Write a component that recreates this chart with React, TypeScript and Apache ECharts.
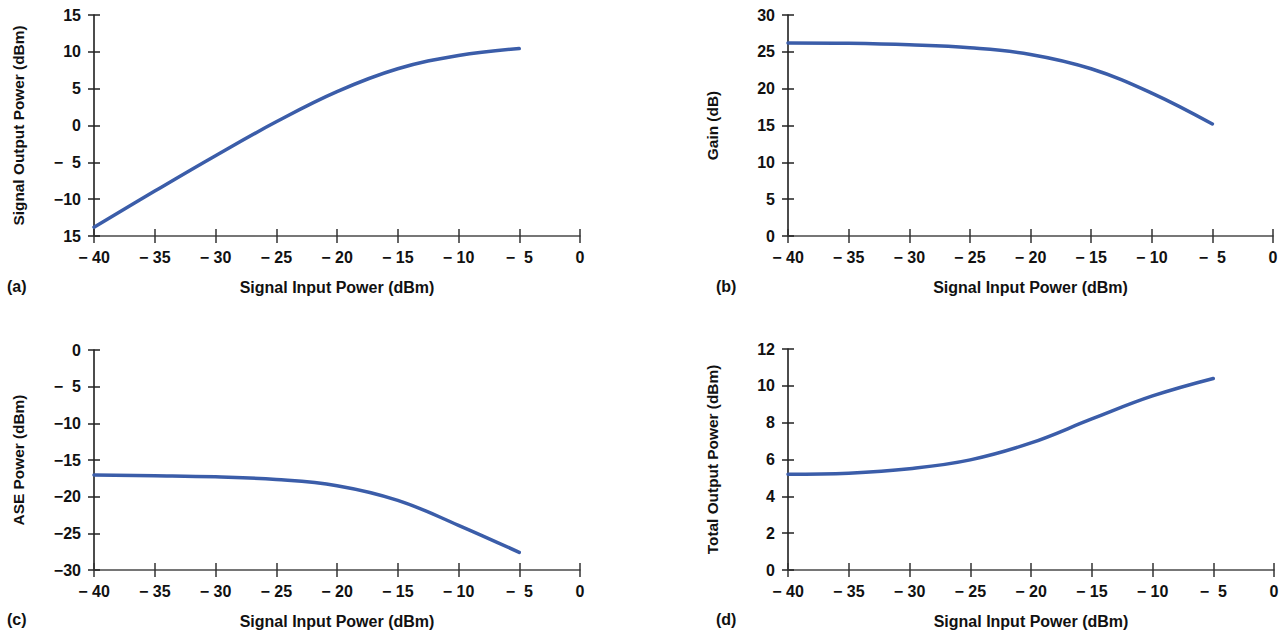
import React, { useEffect, useRef } from "react";
import * as echarts from "echarts";

// ---- data ----
const inputPower = [-40, -35, -30, -25, -20, -15, -10, -5];
const signalOutput = [-13.8, -8.9, -4.1, 0.5, 4.6, 7.7, 9.5, 10.45];
const gain = [26.2, 26.15, 25.95, 25.55, 24.65, 22.7, 19.4, 15.2];
const asePower = [-17.05, -17.15, -17.3, -17.65, -18.5, -20.5, -23.9, -27.6];
const totalOutput = [5.2, 5.26, 5.5, 5.98, 6.9, 8.2, 9.45, 10.4];

const xTickLabels = ["\u2212 40", "\u2212 35", "\u2212 30", "\u2212 25", "\u2212 20", "\u2212 15", "\u2212 10", "\u2212  5", "0"];
const yLabelsA = ["15", "\u221210", "\u2212  5", "0", "5", "10", "15"];
const yLabelsB = ["0", "5", "10", "15", "20", "25", "30"];
const yLabelsC = ["\u221230", "\u221225", "\u221220", "\u221215", "\u221210", "\u2212  5", "0"];
const yLabelsD = ["0", "2", "4", "6", "8", "10", "12"];

const xName = "Signal Input Power (dBm)";
const yNames = ["Signal Output Power (dBm)", "Gain (dB)", "ASE Power (dBm)", "Total Output Power (dBm)"];
const panelLetters = ["(a)", "(b)", "(c)", "(d)"];

const FONT = "'Liberation Sans', Arial, sans-serif";
const TEXT = "#111";
const LINE = "#3b5da9";

type Panel = {
  grid: { left: number; top: number; width: number; height: number };
  yMin: number;
  yMax: number;
  yInt: number;
  yLabels: string[];
  values: number[];
  letterPos: [number, number];
};

const panels: Panel[] = [
  { grid: { left: 94, top: 15, width: 486, height: 221 }, yMin: -15, yMax: 15, yInt: 5, yLabels: yLabelsA, values: signalOutput, letterPos: [7, 287] },
  { grid: { left: 788, top: 15, width: 485, height: 221 }, yMin: 0, yMax: 30, yInt: 5, yLabels: yLabelsB, values: gain, letterPos: [716, 287] },
  { grid: { left: 94, top: 350, width: 486, height: 220 }, yMin: -30, yMax: 0, yInt: 5, yLabels: yLabelsC, values: asePower, letterPos: [7, 620] },
  { grid: { left: 788, top: 349, width: 486, height: 221 }, yMin: 0, yMax: 12, yInt: 2, yLabels: yLabelsD, values: totalOutput, letterPos: [716, 620] },
];

const textStyle = { fontFamily: FONT, fontWeight: "bold" as const, fontSize: 16, color: TEXT };

function buildOption() {
  const grid: any[] = [];
  const xAxis: any[] = [];
  const yAxis: any[] = [];
  const series: any[] = [];
  const graphic: any[] = [];

  panels.forEach((p, i) => {
    grid.push({ ...p.grid, containLabel: false });
    const xBase = {
      type: "value",
      gridIndex: i,
      position: "bottom",
      offset: 0,
      min: -40,
      max: 0,
      interval: 5,
      splitLine: { show: false },
    };
    xAxis.push({
      ...xBase,
      axisLine: { show: true, onZero: false, lineStyle: { color: "#4a4a4a", width: 1.5 } },
      axisTick: { show: true, length: 7, lineStyle: { color: "#333", width: 1.5 } },
      axisLabel: {
        ...textStyle,
        margin: 13,
        formatter: (v: number) => xTickLabels[Math.round((v + 40) / 5)] ?? "",
      },
      name: xName,
      nameLocation: "middle",
      nameGap: 43,
      nameTextStyle: { ...textStyle },
    });
    xAxis.push({
      ...xBase,
      axisLine: { show: false, onZero: false },
      axisTick: { show: true, inside: true, length: 7, lineStyle: { color: "#333", width: 1.5 } },
      axisLabel: { show: false },
    });
    const yBase = {
      type: "value",
      gridIndex: i,
      position: "left",
      offset: 0,
      min: p.yMin,
      max: p.yMax,
      interval: p.yInt,
      splitLine: { show: false },
    };
    yAxis.push({
      ...yBase,
      axisLine: { show: true, onZero: false, lineStyle: { color: "#111", width: 1.5 } },
      axisTick: { show: true, length: 6, lineStyle: { color: "#222", width: 1.5 } },
      axisLabel: {
        ...textStyle,
        margin: 13,
        formatter: (v: number) => p.yLabels[Math.round((v - p.yMin) / p.yInt)] ?? "",
      },
      name: yNames[i],
      nameLocation: "middle",
      nameGap: 68,
      nameTextStyle: { ...textStyle, fontSize: 15.4 },
    });
    yAxis.push({
      ...yBase,
      axisLine: { show: false, onZero: false },
      axisTick: { show: true, inside: true, length: 6, lineStyle: { color: "#222", width: 1.5 } },
      axisLabel: { show: false },
    });
    series.push({
      type: "line",
      xAxisIndex: i * 2,
      yAxisIndex: i * 2,
      data: inputPower.map((x, k) => [x, p.values[k]]),
      smooth: 0.4,
      showSymbol: false,
      symbol: "none",
      lineStyle: { color: LINE, width: 3.5, cap: "round" },
      z: 5,
    });
    graphic.push({
      type: "text",
      left: p.letterPos[0],
      top: p.letterPos[1] - 9,
      style: { text: panelLetters[i], font: `bold 16px ${FONT}`, fill: TEXT },
    });
  });

  return { animation: false, backgroundColor: "#fff", grid, xAxis, yAxis, series, graphic };
}

export default function App() {
  const ref = useRef<HTMLDivElement>(null);
  useEffect(() => {
    if (!ref.current) return;
    const chart = echarts.init(ref.current, undefined, { renderer: "svg" });
    chart.setOption(buildOption() as any);
    return () => chart.dispose();
  }, []);
  return (
    <div
      ref={ref}
      style={{ position: "absolute", left: 0, top: 0, width: 1283, height: 633, background: "#fff" }}
    />
  );
}
